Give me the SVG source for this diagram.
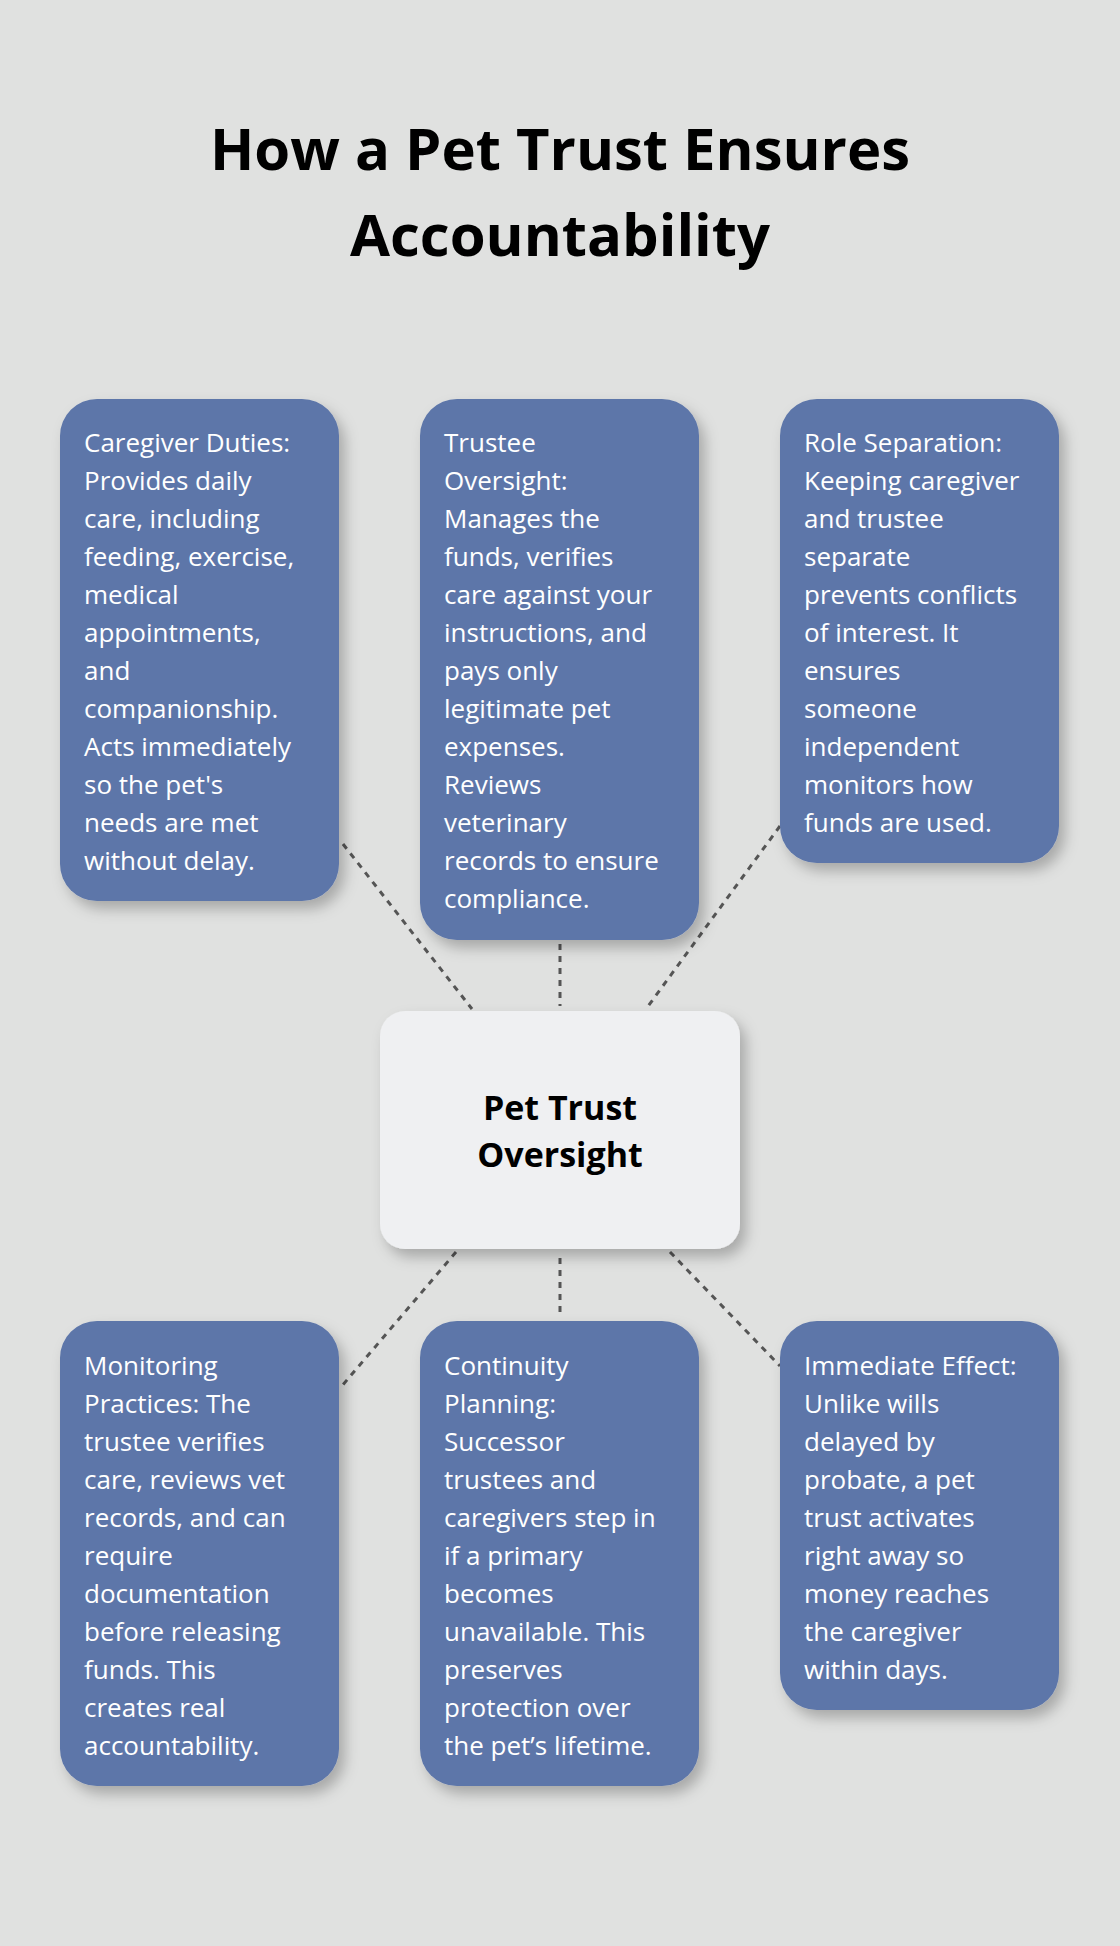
<svg xmlns="http://www.w3.org/2000/svg" width="1120" height="1946" viewBox="0 0 1120 1946">
<style>
.bg{fill:#e0e1e0}
.box{fill:#5d76a9;filter:url(#sh)}
.ctr{fill:#eff0f2;filter:url(#sh)}
.t{font-family:"Open Sans","Noto Sans",sans-serif;font-size:26px;fill:#ffffff}
.title{font-family:"Open Sans","Noto Sans",sans-serif;font-size:58px;font-weight:bold;fill:#000;text-anchor:middle}
.ct{font-family:"Open Sans","Noto Sans",sans-serif;font-size:34px;font-weight:bold;fill:#000;text-anchor:middle}
.c{stroke:#555;stroke-width:3;stroke-dasharray:6 6;fill:none}
</style>
<defs>
<filter id="sh" x="-20%" y="-20%" width="150%" height="150%">
<feDropShadow dx="6" dy="8" stdDeviation="7" flood-color="#000" flood-opacity="0.25"/>
</filter>
</defs>
<rect class="bg" width="1120" height="1946"/>
<g id="title">
<text class="title" x="560" y="170">How a Pet Trust Ensures</text>
<text class="title" x="560" y="256">Accountability</text>
</g>
<g id="connectors">
<line class="c" x1="343" y1="844" x2="472" y2="1009"/>
<line class="c" x1="560" y1="944" x2="560" y2="1006"/>
<line class="c" x1="780" y1="826" x2="646" y2="1009"/>
<line class="c" x1="456" y1="1252" x2="341" y2="1387"/>
<line class="c" x1="560" y1="1258" x2="560" y2="1316"/>
<line class="c" x1="670" y1="1252" x2="780" y2="1366"/>
</g>
<g id="n1">
<rect class="box" x="60" y="399" width="279" height="502" rx="37"/>
<text class="t" x="84" y="452">
<tspan x="84">Caregiver Duties:</tspan><tspan x="84" dy="38">Provides daily</tspan><tspan x="84" dy="38">care, including</tspan><tspan x="84" dy="38">feeding, exercise,</tspan><tspan x="84" dy="38">medical</tspan><tspan x="84" dy="38">appointments,</tspan><tspan x="84" dy="38">and</tspan><tspan x="84" dy="38">companionship.</tspan><tspan x="84" dy="38">Acts immediately</tspan><tspan x="84" dy="38">so the pet's</tspan><tspan x="84" dy="38">needs are met</tspan><tspan x="84" dy="38">without delay.</tspan>
</text>
</g>
<g id="n2">
<rect class="box" x="420" y="399" width="279" height="541" rx="37"/>
<text class="t" x="444" y="452">
<tspan x="444">Trustee</tspan><tspan x="444" dy="38">Oversight:</tspan><tspan x="444" dy="38">Manages the</tspan><tspan x="444" dy="38">funds, verifies</tspan><tspan x="444" dy="38">care against your</tspan><tspan x="444" dy="38">instructions, and</tspan><tspan x="444" dy="38">pays only</tspan><tspan x="444" dy="38">legitimate pet</tspan><tspan x="444" dy="38">expenses.</tspan><tspan x="444" dy="38">Reviews</tspan><tspan x="444" dy="38">veterinary</tspan><tspan x="444" dy="38">records to ensure</tspan><tspan x="444" dy="38">compliance.</tspan>
</text>
</g>
<g id="n3">
<rect class="box" x="780" y="399" width="279" height="464" rx="37"/>
<text class="t" x="804" y="452">
<tspan x="804">Role Separation:</tspan><tspan x="804" dy="38">Keeping caregiver</tspan><tspan x="804" dy="38">and trustee</tspan><tspan x="804" dy="38">separate</tspan><tspan x="804" dy="38">prevents conflicts</tspan><tspan x="804" dy="38">of interest. It</tspan><tspan x="804" dy="38">ensures</tspan><tspan x="804" dy="38">someone</tspan><tspan x="804" dy="38">independent</tspan><tspan x="804" dy="38">monitors how</tspan><tspan x="804" dy="38">funds are used.</tspan>
</text>
</g>
<g id="center">
<rect class="ctr" x="380" y="1011" width="360" height="238" rx="25"/>
<text class="ct" x="560" y="1120">Pet Trust</text>
<text class="ct" x="560" y="1167">Oversight</text>
</g>
<g id="n4">
<rect class="box" x="60" y="1321" width="279" height="465" rx="37"/>
<text class="t" x="84" y="1375">
<tspan x="84">Monitoring</tspan><tspan x="84" dy="38">Practices: The</tspan><tspan x="84" dy="38">trustee verifies</tspan><tspan x="84" dy="38">care, reviews vet</tspan><tspan x="84" dy="38">records, and can</tspan><tspan x="84" dy="38">require</tspan><tspan x="84" dy="38">documentation</tspan><tspan x="84" dy="38">before releasing</tspan><tspan x="84" dy="38">funds. This</tspan><tspan x="84" dy="38">creates real</tspan><tspan x="84" dy="38">accountability.</tspan>
</text>
</g>
<g id="n5">
<rect class="box" x="420" y="1321" width="279" height="465" rx="37"/>
<text class="t" x="444" y="1375">
<tspan x="444">Continuity</tspan><tspan x="444" dy="38">Planning:</tspan><tspan x="444" dy="38">Successor</tspan><tspan x="444" dy="38">trustees and</tspan><tspan x="444" dy="38">caregivers step in</tspan><tspan x="444" dy="38">if a primary</tspan><tspan x="444" dy="38">becomes</tspan><tspan x="444" dy="38">unavailable. This</tspan><tspan x="444" dy="38">preserves</tspan><tspan x="444" dy="38">protection over</tspan><tspan x="444" dy="38">the pet’s lifetime.</tspan>
</text>
</g>
<g id="n6">
<rect class="box" x="780" y="1321" width="279" height="389" rx="37"/>
<text class="t" x="804" y="1375">
<tspan x="804">Immediate Effect:</tspan><tspan x="804" dy="38">Unlike wills</tspan><tspan x="804" dy="38">delayed by</tspan><tspan x="804" dy="38">probate, a pet</tspan><tspan x="804" dy="38">trust activates</tspan><tspan x="804" dy="38">right away so</tspan><tspan x="804" dy="38">money reaches</tspan><tspan x="804" dy="38">the caregiver</tspan><tspan x="804" dy="38">within days.</tspan>
</text>
</g>
</svg>
